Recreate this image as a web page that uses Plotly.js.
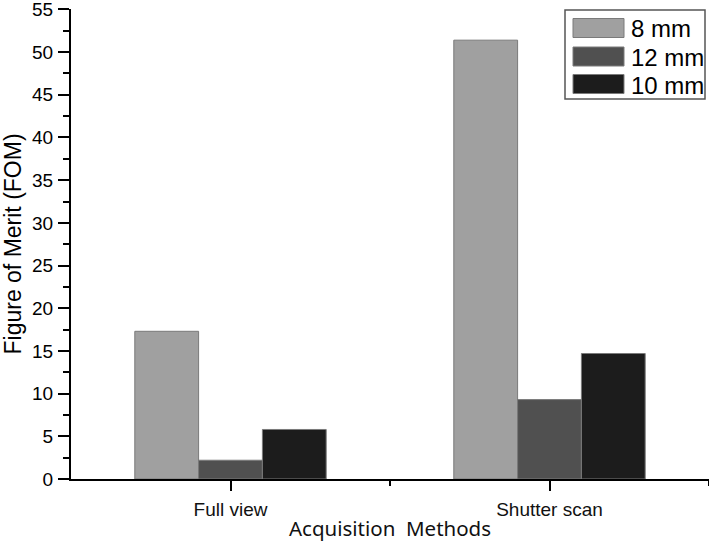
<!DOCTYPE html>
<html>
<head>
<meta charset="utf-8">
<script src="https://cdn.plot.ly/plotly-3.0.1.min.js"></script>
<style>html,body{margin:0;padding:0;background:#fff;}#chart{width:709px;height:542px;}</style>
</head>
<body>
<div id="chart"></div>
<script>
// Data
const categories = ["Full view", "Shutter scan"];
const seriesNames = ["8 mm", "12 mm", "10 mm"];
const values8mm = [17.3, 51.4];
const values12mm = [2.2, 9.3];
const values10mm = [5.8, 14.7];
const seriesColors = ["#a0a0a0", "#505050", "#1c1c1c"];
const yTitle = "Figure of Merit (FOM)";
const xTitle = "Acquisition  Methods";

const allValues = [values8mm, values12mm, values10mm];
const xPos = categories.map((c, i) => i + 1);

const traces = allValues.map((vals, i) => ({
  type: "bar",
  x: xPos,
  y: vals,
  name: seriesNames[i],
  marker: { color: seriesColors[i], line: { color: "#7a7a7a", width: 1 } },
  showlegend: false,
  hoverinfo: "y"
}));

// plot area in pixels
const L = 71, R = 709, T = 9, B = 479;
const W = R - L, H = B - T;
const px = v => (v - L) / W;
const py = v => (B - v) / H;

const shapes = [];
const annotations = [];
// legend box
shapes.push({ type: "rect", xref: "paper", yref: "paper", x0: px(565), x1: px(705), y0: py(99), y1: py(10),
  line: { color: "#555", width: 1.5 }, fillcolor: "#fff", layer: "above" });
const rowY = [28, 56.5, 84];
seriesNames.forEach((n, i) => {
  shapes.push({ type: "rect", xref: "paper", yref: "paper", x0: px(573), x1: px(624),
    y0: py(rowY[i] + 9.5), y1: py(rowY[i] - 9.5), fillcolor: seriesColors[i],
    line: { color: "#7a7a7a", width: 1 }, layer: "above" });
  annotations.push({ xref: "paper", yref: "paper", x: px(629), y: py(rowY[i] + 1), xanchor: "left", yanchor: "middle",
    text: n, showarrow: false, font: { family: "Arial, Liberation Sans, sans-serif", size: 24, color: "#000" } });
});

const layout = {
  width: 709, height: 542,
  margin: { l: L, r: 709 - R, t: T, b: 542 - B, pad: 0 },
  paper_bgcolor: "#fff", plot_bgcolor: "#fff",
  barmode: "group", bargap: 0.4, bargroupgap: 0,
  font: { family: "Arial, Liberation Sans, sans-serif", color: "#000" },
  xaxis: {
    range: [0.5, 2.5],
    tickmode: "array", tickvals: xPos, ticktext: categories,
    ticks: "outside", ticklen: 10, tickwidth: 2, tickcolor: "#000",
    minor: { tickmode: "array", tickvals: [1.5, 2.5], ticks: "outside", ticklen: 5, tickwidth: 2, tickcolor: "#000" },
    showline: true, linecolor: "#000", linewidth: 2,
    showgrid: false, zeroline: false,
    ticklabelstandoff: 2,
    tickfont: { size: 19, color: "#111", family: "Arial, Liberation Sans, sans-serif" },
    title: { text: xTitle, font: { size: 20.5, family: "Noto Sans, DejaVu Sans, sans-serif", color: "#111" }, standoff: 5 },
    fixedrange: true
  },
  yaxis: {
    range: [0, 55.05], tickmode: "linear", tick0: 0, dtick: 5,
    ticks: "outside", ticklen: 11, tickwidth: 2, tickcolor: "#000",
    minor: { dtick: 2.5, ticks: "outside", ticklen: 6, tickwidth: 2, tickcolor: "#000" },
    showline: true, linecolor: "#000", linewidth: 2,
    showgrid: false, zeroline: false,
    ticklabelstandoff: 1,
    ticklabeloverflow: "allow",
    tickfont: { size: 19, color: "#000", family: "Arial, Liberation Sans, sans-serif" },
    title: { text: yTitle, font: { size: 23, color: "#000", family: "Arial, Liberation Sans, sans-serif" }, standoff: 12 },
    fixedrange: true
  },
  shapes: shapes,
  annotations: annotations
};

Plotly.newPlot("chart", traces, layout, { displayModeBar: false, staticPlot: true });
</script>
</body>
</html>
